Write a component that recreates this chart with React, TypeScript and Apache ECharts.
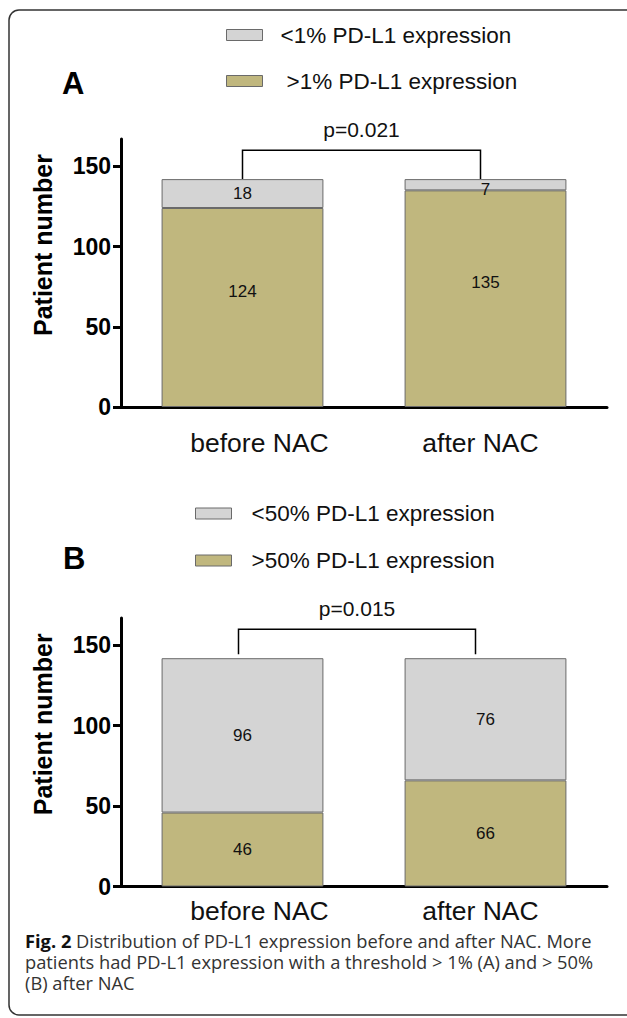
import React, { useEffect, useRef } from "react";
import * as echarts from "echarts";

const categories = ["before NAC", "after NAC"];
// Panel A (threshold 1%)
const aboveA = [124, 135];
const belowA = [18, 7];
// Panel B (threshold 50%)
const aboveB = [46, 66];
const belowB = [96, 76];
const yTicks = [0, 50, 100, 150];
const legendA = ["<1% PD-L1 expression", ">1% PD-L1 expression"];
const legendB = ["<50% PD-L1 expression", ">50% PD-L1 expression"];
const pValues = ["p=0.021", "p=0.015"];
const captionLines = [
  "{b|Fig. 2} Distribution of PD-L1 expression before and after NAC. More",
  "patients had PD-L1 expression with a threshold > 1% (A) and > 50%",
  "(B) after NAC",
];

const FONT = "'Liberation Sans', Arial, sans-serif";
const OLIVE = "#C0B77E";
const GRAY = "#D4D4D4";
const EDGE = "#6a6a6a";

function xAxisFor(gridIndex: number, tickLen: number, margin: number) {
  return {
    type: "category",
    gridIndex,
    data: categories.map((c, i) => ({
      value: c,
      textStyle: { padding: i === 0 ? [0, 0, 0, 34] : [0, 10, 0, 0] },
    })),
    axisLine: { lineStyle: { color: "#000", width: 3 } },
    axisTick: { alignWithLabel: true, length: tickLen, lineStyle: { color: "#000", width: 3 } },
    axisLabel: { fontSize: 26.5, color: "#111", fontFamily: FONT, margin },
  };
}

function yAxisFor(gridIndex: number) {
  return {
    type: "value",
    gridIndex,
    min: 0,
    max: 167,
    interval: 50,
    name: "Patient number",
    nameLocation: "middle",
    nameGap: 66,
    nameTextStyle: {
      fontSize: 25,
      fontWeight: "bold",
      color: "#000",
      fontFamily: FONT,
      padding: [0, 0, 0, 56],
    },
    splitLine: { show: false },
    axisLine: { show: true, lineStyle: { color: "#000", width: 3 } },
    axisTick: { show: true, length: 8, customValues: yTicks, lineStyle: { color: "#000", width: 3 } },
    axisLabel: {
      customValues: yTicks,
      fontSize: 23,
      fontWeight: "bold",
      color: "#000",
      fontFamily: FONT,
      margin: 10,
      formatter: (v: number) => (yTicks.includes(v) ? String(v) : ""),
    },
  };
}

function barSeries(
  name: string,
  data: number[],
  color: string,
  axis: number,
  stack: string,
  offsets: number[][]
) {
  return {
    type: "bar",
    name,
    stack,
    xAxisIndex: axis,
    yAxisIndex: axis,
    barWidth: "66.6%",
    itemStyle: { color, borderColor: EDGE, borderWidth: 1 },
    label: {
      show: true,
      position: "inside",
      fontSize: 17,
      color: "#111",
      fontFamily: FONT,
    },
    data: data.map((v, i) => ({ value: v, label: { offset: offsets[i] } })),
  };
}

function legendFor(names: string[], left: number, top: number, pads: number[], gap: number) {
  return {
    orient: "vertical",
    left,
    top,
    itemWidth: 36,
    itemHeight: 11,
    itemGap: gap,
    icon: "rect",
    selectedMode: false,
    itemStyle: { borderColor: EDGE, borderWidth: 1 },
    textStyle: { fontSize: 22.5, color: "#111", fontFamily: FONT, lineHeight: 22 },
    data: names.map((n, i) => ({ name: n, textStyle: { padding: [0, 0, 0, pads[i]] } })),
  };
}

export default function App() {
  const ref = useRef<HTMLDivElement>(null);
  useEffect(() => {
    document.body.style.margin = "0";
    if (!ref.current) return;
    const chart = echarts.init(ref.current, undefined, { renderer: "svg" });
    const option: any = {
      animation: false,
      backgroundColor: "#fff",
      grid: [
        { left: 121, top: 139, width: 486, height: 268 },
        { left: 121, top: 618, width: 486, height: 268.5 },
      ],
      legend: [
        legendFor(legendA, 221, 18.5, [13, 19], 23),
        legendFor(legendB, 190, 497, [15, 15], 24),
      ],
      xAxis: [xAxisFor(0, 10, 22), xAxisFor(1, 4, 11)],
      yAxis: [yAxisFor(0), yAxisFor(1)],
      series: [
        barSeries(legendA[1], aboveA, OLIVE, 0, "a", [[0, -16], [0, -16]]),
        barSeries(legendA[0], belowA, GRAY, 0, "a", [[0, 0], [0, 5]]),
        barSeries(legendB[1], aboveB, OLIVE, 1, "b", [[0, 0], [0, 0]]),
        barSeries(legendB[0], belowB, GRAY, 1, "b", [[0, 0], [0, 0]]),
      ],
    };
    chart.setOption(option);

    // brackets placed via the axes' own scales
    const tops = [aboveA[0] + belowA[0], aboveB[0] + belowB[0]];
    const graphics: any[] = [];
    [0, 1].forEach((g) => {
      const l = chart.convertToPixel({ gridIndex: g } as any, [categories[0], tops[g]]) as number[];
      const r = chart.convertToPixel({ gridIndex: g } as any, [categories[1], tops[g]]) as number[];
      const hi = chart.convertToPixel({ gridIndex: g } as any, [categories[0], 160]) as number[];
      const lx = l[0] - (g === 1 ? 4 : 0);
      const rx = r[0] - (g === 1 ? 10 : 5);
      graphics.push({
        type: "polyline",
        shape: { points: [[lx, l[1] - (g === 1 ? 4 : 0)], [lx, hi[1]], [rx, hi[1]], [rx, r[1] - (g === 1 ? 4 : 0)]] },
        style: { stroke: "#000", lineWidth: 1.5, fill: null },
      });
      graphics.push({
        type: "text",
        x: (lx + rx) / 2,
        y: hi[1] - 21,
        style: {
          text: pValues[g],
          fontSize: 21,
          fontFamily: FONT,
          fill: "#111",
          align: "center",
          verticalAlign: "middle",
        },
      });
    });
    graphics.push(
      {
        type: "text",
        left: 62,
        top: 68,
        style: { text: "A", fontSize: 31, fontWeight: "bold", fontFamily: FONT, fill: "#000" },
      },
      {
        type: "text",
        left: 63,
        top: 543,
        style: { text: "B", fontSize: 31, fontWeight: "bold", fontFamily: FONT, fill: "#000" },
      },
      {
        type: "rect",
        shape: { x: 9, y: 10, width: 640, height: 1005, r: 10 },
        style: { stroke: "#333", lineWidth: 1.5, fill: null },
        z: 100,
      },
      {
        type: "text",
        x: 25,
        y: 930,
        style: {
          text: captionLines.join("\n"),
          fontSize: 18.3,
          lineHeight: 21,
          fontFamily: "'Open Sans', 'Noto Sans', sans-serif",
          fill: "#333",
          verticalAlign: "top",
          rich: {
            b: {
              fontWeight: "bold",
              fill: "#111",
              fontSize: 18.3,
              lineHeight: 21,
              fontFamily: "'Open Sans', sans-serif",
            },
          },
        },
      }
    );
    chart.setOption({ graphic: graphics });

    return () => chart.dispose();
  }, []);
  return <div ref={ref} style={{ width: 627, height: 1018 }} />;
}
